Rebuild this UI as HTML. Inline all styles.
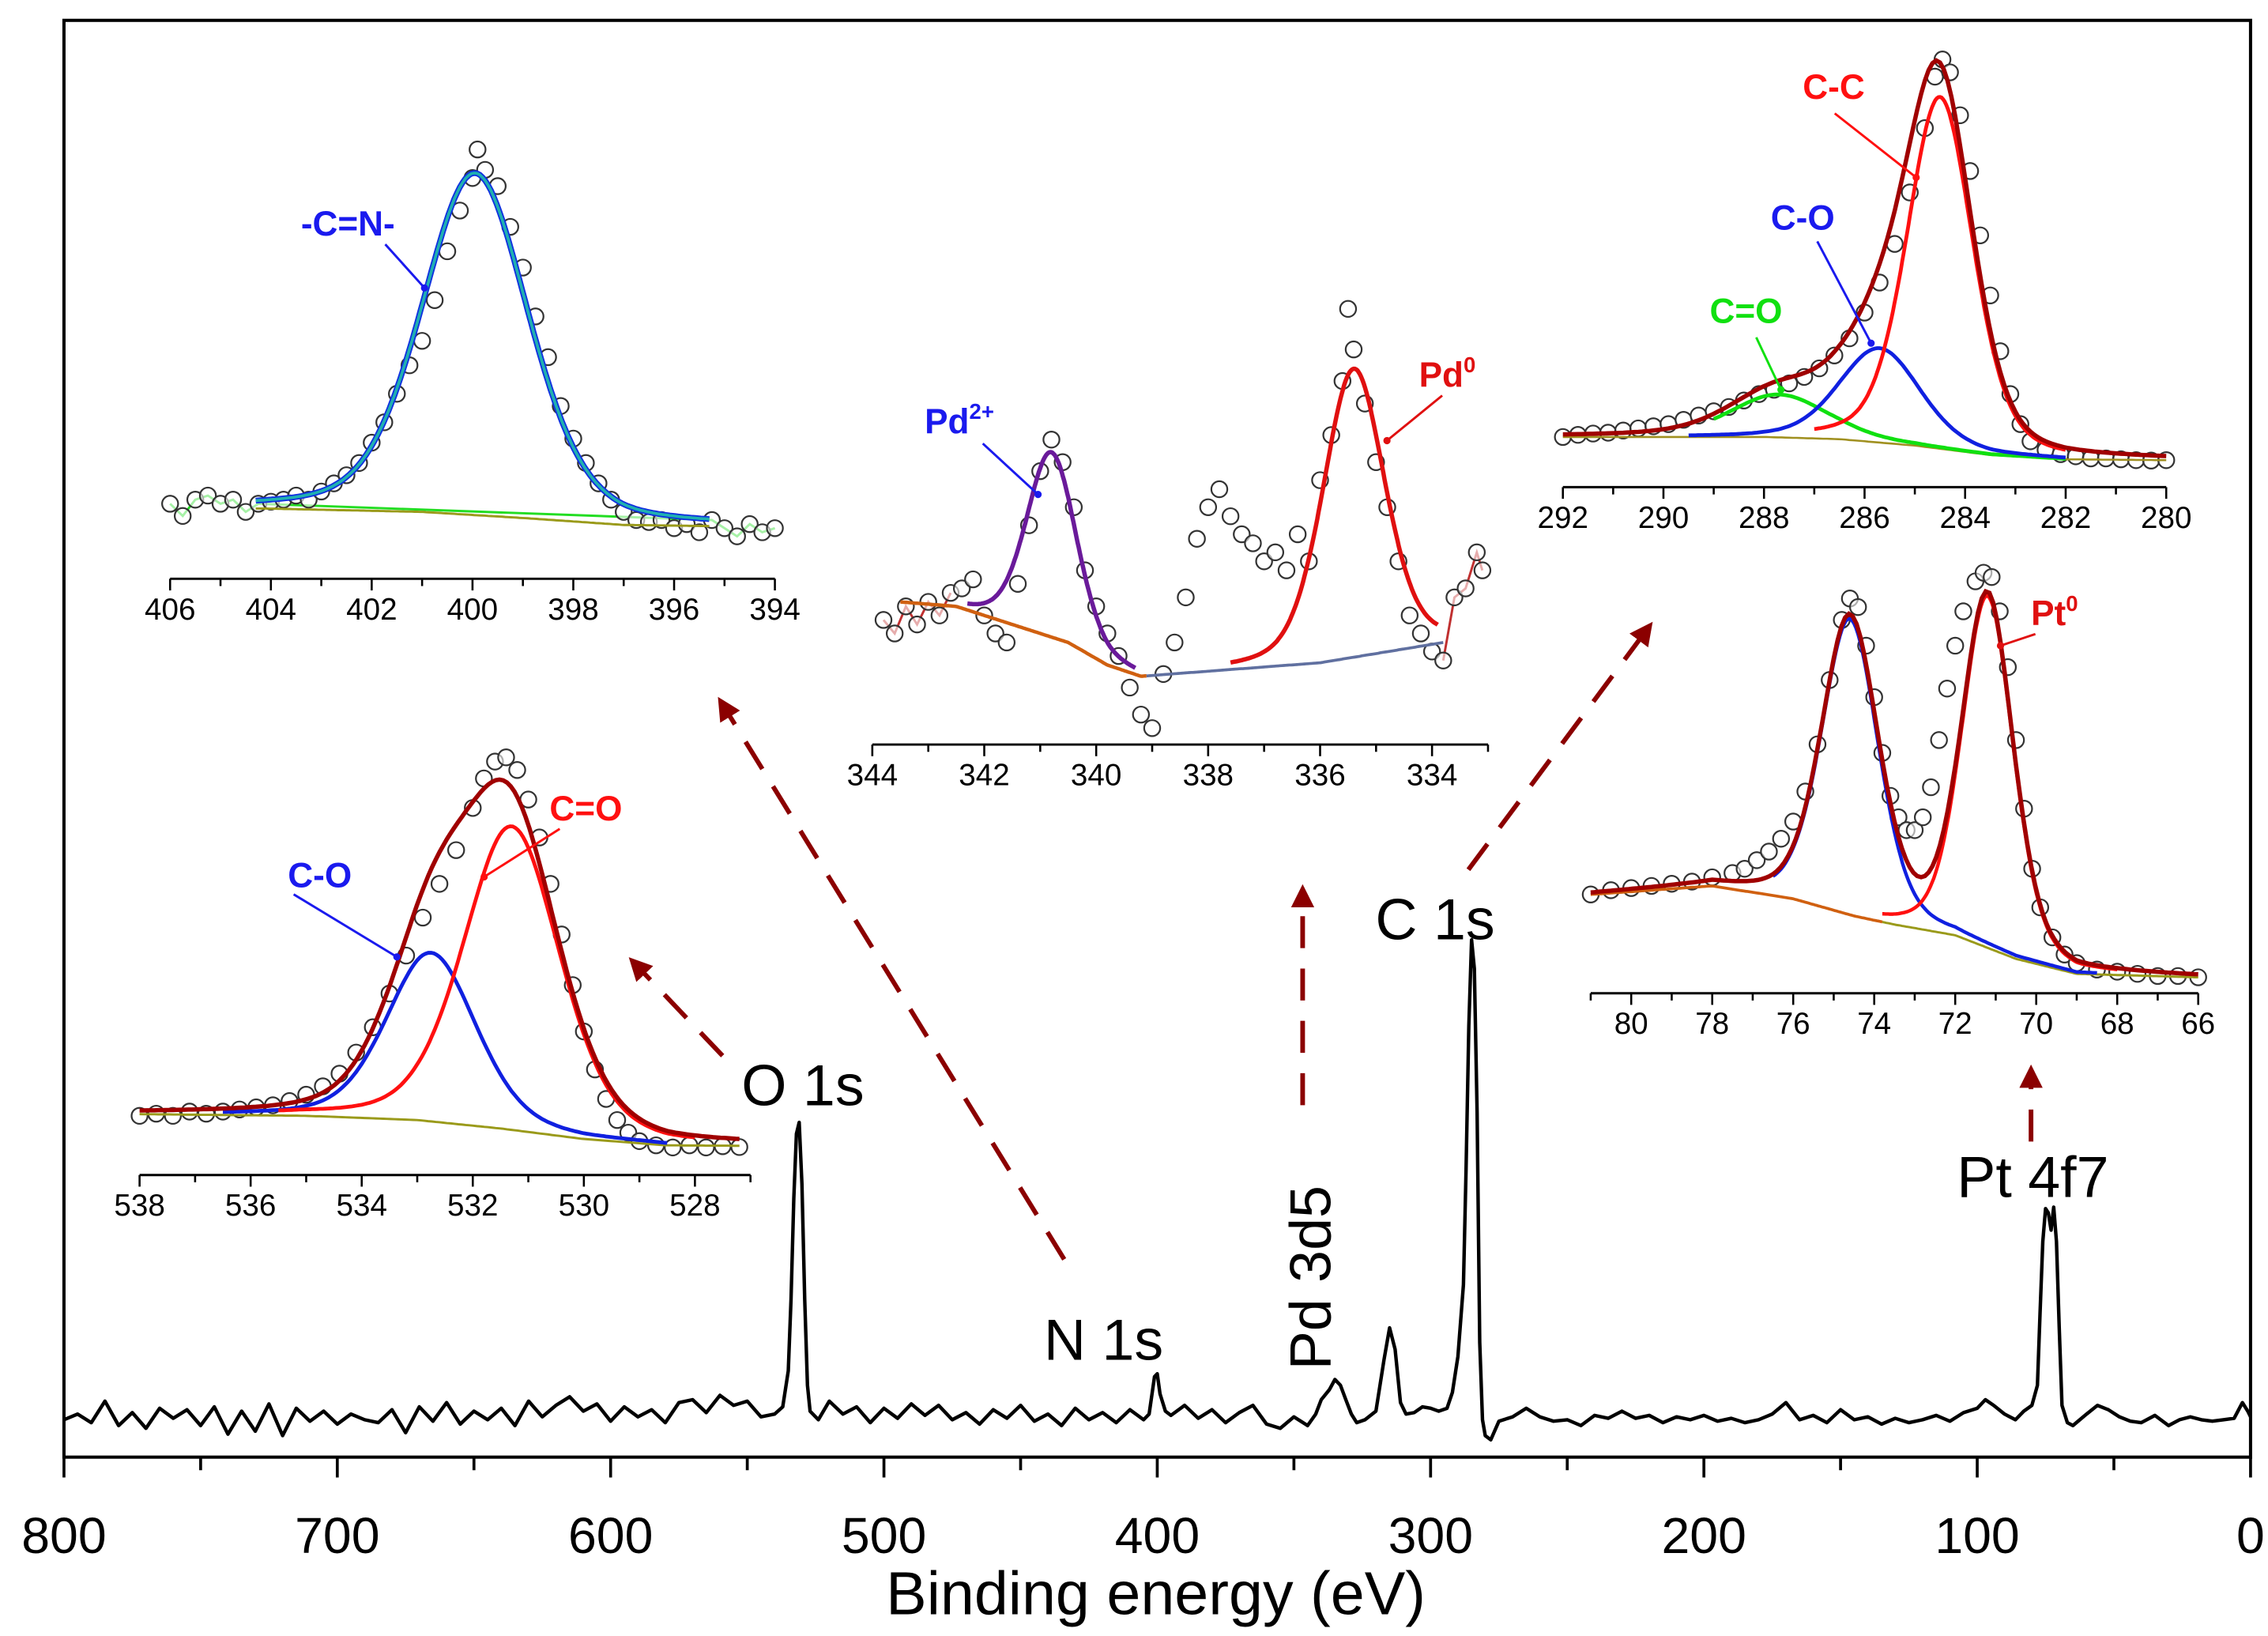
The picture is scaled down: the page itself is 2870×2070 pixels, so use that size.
<!DOCTYPE html>
<html><head><meta charset="utf-8"><title>XPS spectrum</title>
<style>html,body{margin:0;padding:0;background:#fff}svg{display:block}text{font-family:"Liberation Sans",Arial,sans-serif}</style>
</head><body>
<svg id="chart" xmlns="http://www.w3.org/2000/svg" width="2870" height="2070" viewBox="0 0 1560 1125" preserveAspectRatio="none">
<defs><marker id="ah" viewBox="0 0 10 10" refX="5" refY="5" markerWidth="5" markerHeight="5" orient="auto"><path d="M0,0 L10,5 L0,10 z" fill="#8b0000"/></marker></defs>
<rect x="44" y="14" width="1504" height="988" fill="none" stroke="#000" stroke-width="2.2"/>
<g id="main"></g><g id="insets"></g><g id="ann"></g>
</svg>
<script>
// ---------- Survey spectrum data [binding energy eV, intensity a.u.] ----------
const surveyTicks = [800,700,600,500,400,300,200,100,0];
const survey = [[800,2.6],[795,3.0],[790,2.4],[785,3.9],[780,2.2],[775,3.1],[770,2.0],[765,3.4],[760,2.7],[755,3.3],[750,2.2],[745,3.5],[740,1.6],[735,3.2],[730,1.8],[725,3.7],[720,1.5],[715,3.4],[710,2.5],[705,3.2],[700,2.3],[695,3.0],[690,2.6],[685,2.4],[680,3.3],[675,1.7],[670,3.5],[665,2.5],[660,3.8],[655,2.3],[650,3.2],[645,2.6],[640,3.4],[635,2.2],[630,3.9],[625,2.8],[620,3.6],[615,4.2],[610,3.2],[605,3.7],[600,2.5],[595,3.5],[590,2.8],[585,3.3],[580,2.4],[575,3.8],[570,4.0],[565,3.1],[560,4.3],[555,3.6],[550,3.9],[545,2.8],[540,3.0],[537,3.5],[535,6],[534,11],[533,18],[532,22.5],[531,23.3],[530,19],[529,11],[528,5],[527,3.2],[524,2.6],[520,3.9],[515,3.0],[510,3.5],[505,2.4],[500,3.4],[495,2.7],[490,3.7],[485,2.9],[480,3.6],[475,2.6],[470,3.1],[465,2.3],[460,3.3],[455,2.7],[450,3.6],[445,2.5],[440,3.0],[435,2.2],[430,3.4],[425,2.6],[420,3.1],[415,2.4],[410,3.3],[405,2.6],[403,3.0],[401,5.6],[400,5.8],[399,4.4],[397,3.2],[395,2.9],[390,3.6],[385,2.7],[380,3.3],[375,2.4],[370,3.1],[365,3.6],[360,2.3],[355,2.0],[350,2.8],[345,2.2],[342,3.0],[340,4.0],[337,4.7],[335,5.4],[333,5.0],[331,4.0],[329,3.0],[327,2.4],[324,2.6],[320,3.2],[317,6.8],[315,9.0],[313,7.5],[311,3.8],[309,3.0],[306,3.1],[303,3.5],[300,3.4],[297,3.2],[294,3.4],[292,4.5],[290,7],[288,12],[287,20],[286,30],[285,36],[284,34],[283,24],[282,8],[281,2.6],[280,1.5],[278,1.2],[275,2.5],[270,2.8],[265,3.4],[260,2.8],[255,2.5],[250,2.6],[245,2.2],[240,2.9],[235,2.7],[230,3.2],[225,2.7],[220,2.9],[215,2.4],[210,2.8],[205,2.6],[200,2.9],[195,2.5],[190,2.7],[185,2.4],[180,2.6],[175,3.0],[170,3.8],[165,2.6],[160,2.9],[155,2.4],[150,3.3],[145,2.6],[140,2.8],[135,2.3],[130,2.7],[125,2.4],[120,2.6],[115,2.9],[110,2.5],[105,3.1],[100,3.4],[97,4.0],[94,3.6],[90,3.0],[86,2.6],[83,3.2],[80,3.6],[78,5],[77,10],[76,15],[75,17.3],[74,17],[73,15.8],[72,17.4],[71,15],[70,9],[69,3.6],[67,2.4],[65,2.2],[60,3.0],[56,3.6],[52,3.3],[48,2.8],[44,2.5],[40,2.4],[35,2.9],[30,2.2],[26,2.6],[22,2.8],[18,2.6],[14,2.5],[10,2.6],[6,2.7],[3,3.8],[1,3.2],[0,2.8]];

// ---------- N 1s ----------
const nTicks = [406,404,402,400,398,396,394];
const nData = [[406,12],[405.75,9],[405.5,13],[405.25,14],[405,12],[404.75,13],[404.5,10],[404.25,12],[404,12.5],[403.75,13],[403.5,14],[403.25,13],[403,15],[402.75,17],[402.5,19],[402.25,22],[402,27],[401.75,32],[401.5,39],[401.25,46],[401,52],[400.75,62],[400.5,74],[400.25,84],[400,92],[399.9,99],[399.75,94],[399.5,90],[399.25,80],[399,70],[398.75,58],[398.5,48],[398.25,36],[398,28],[397.75,22],[397.5,17],[397.25,13],[397,10],[396.75,8],[396.5,7.5],[396.25,8],[396,6],[395.75,7],[395.5,5],[395.25,8],[395,6],[394.75,4],[394.5,7],[394.25,5],[394,6]];
const nBg = [[406,11],[404,10.8],[401,10],[399,8.5],[397,6.8],[394,6.3]];
const nPeaks = [[399.95,84,2.5]];

// ---------- Pd 3d ----------
const pdTicks = [344,342,340,338,336,334];
const pdData = [[343.8,27],[343.6,24],[343.4,30],[343.2,26],[343,31],[342.8,28],[342.6,33],[342.4,34],[342.2,36],[342,28],[341.8,24],[341.6,22],[341.4,35],[341.2,48],[341,60],[340.8,67],[340.6,62],[340.4,52],[340.2,38],[340,30],[339.8,24],[339.6,19],[339.4,12],[339.2,6],[339,3],[338.8,15],[338.6,22],[338.4,32],[338.2,45],[338,52],[337.8,56],[337.6,50],[337.4,46],[337.2,44],[337,40],[336.8,42],[336.6,38],[336.4,46],[336.2,40],[336,58],[335.8,68],[335.6,80],[335.5,96],[335.4,87],[335.2,75],[335,62],[334.8,52],[334.6,40],[334.4,28],[334.2,24],[334,20],[333.8,18],[333.6,32],[333.4,34],[333.2,42],[333.1,38]];
const pdBg = [[343.5,31],[342.5,30],[341.5,26],[340.5,22],[339.8,17],[339.2,14.5],[336,17.5],[333.8,22]];
const pdPeaks2 = [[340.8,41,1.05]];
const pdPeaks0 = [[335.4,64,1.3]];

// ---------- C 1s ----------
const cTicks = [292,290,288,286,284,282,280];
const cData = [[292,10],[291.7,10.5],[291.4,10.8],[291.1,11],[290.8,11.5],[290.5,12],[290.2,12.5],[289.9,13],[289.6,14],[289.3,15],[289,16],[288.7,17],[288.4,18.5],[288.1,20],[287.8,21],[287.5,22.5],[287.2,24],[286.9,26],[286.6,29],[286.3,33],[286,39],[285.7,46],[285.4,55],[285.1,67],[284.8,82],[284.6,94],[284.45,98],[284.3,95],[284.1,85],[283.9,72],[283.7,57],[283.5,43],[283.3,30],[283.1,20],[282.9,13],[282.7,9],[282.4,7],[282.1,6],[281.8,5.5],[281.5,5],[281.2,5],[280.9,4.8],[280.6,4.6],[280.3,4.5],[280,4.6]];
const cBg = [[292,10],[288,10],[286.5,9.5],[285,8],[283.5,5.8],[282,4.8],[280,4.6]];
const cPeakCC = [284.5,82,1.55];
const cPeakCO = [285.7,22,1.9];
const cPeakCdO = [287.7,10,2.3];

// ---------- Pt 4f ----------
const ptTicks = [80,78,76,74,72,70,68,66];
const ptData = [[81,22],[80.5,23],[80,23.5],[79.5,24],[79,24.5],[78.5,25],[78,26],[77.5,27],[77.2,28],[76.9,30],[76.6,32],[76.3,35],[76,39],[75.7,46],[75.4,57],[75.1,72],[74.8,86],[74.6,91],[74.4,89],[74.2,80],[74,68],[73.8,55],[73.6,45],[73.4,40],[73.2,37],[73,37],[72.8,40],[72.6,47],[72.4,58],[72.2,70],[72,80],[71.8,88],[71.5,95],[71.3,97],[71.1,96],[70.9,88],[70.7,75],[70.5,58],[70.3,42],[70.1,28],[69.9,19],[69.6,12],[69.3,8],[69,6],[68.5,4.5],[68,4],[67.5,3.5],[67,3],[66.5,3],[66,2.7]];
const ptBg = [[81,22],[78,24],[76,21],[74.5,17],[73.5,15],[72,12.5],[70.5,7],[69,3.5],[66,2.7]];
const ptPeak1 = [74.6,69,1.65];
const ptPeak2 = [71.2,82,1.5];

// ---------- O 1s ----------
const oTicks = [538,536,534,532,530,528];
const oData = [[538,13],[537.7,13.5],[537.4,13],[537.1,14],[536.8,13.5],[536.5,14],[536.2,14.5],[535.9,15],[535.6,15.5],[535.3,16.5],[535,18],[534.7,20],[534.4,23],[534.1,28],[533.8,34],[533.5,42],[533.2,51],[532.9,60],[532.6,68],[532.3,76],[532,86],[531.8,93],[531.6,97],[531.4,98],[531.2,95],[531,88],[530.8,79],[530.6,68],[530.4,56],[530.2,44],[530,33],[529.8,24],[529.6,17],[529.4,12],[529.2,9],[529,7],[528.7,6],[528.4,5.5],[528.1,6],[527.8,5.5],[527.5,5.8],[527.2,5.6]];
const oBg = [[538,13.4],[535,13],[533,12],[531.5,10],[530,7.5],[528.5,6],[527.2,5.9]];
const oPeakCO = [532.75,40,1.9];
const oPeakCdO = [531.3,72,2.05];

const NS = 'http://www.w3.org/2000/svg';
function mk(tag, attrs, parent){const e=document.createElementNS(NS,tag);for(const k in attrs)e.setAttribute(k,attrs[k]);parent.appendChild(e);return e;}
function interp(arr,x){if(x>=arr[0][0])return arr[0][1];for(let i=1;i<arr.length;i++){if(x>=arr[i][0]){const a=arr[i-1],b=arr[i];return a[1]+(b[1]-a[1])*(x-a[0])/(b[0]-a[0]);}}return arr[arr.length-1][1];}
function pv(x,p){const c=p[0],h=p[1],f=p[2],eta=0.3;const d=(x-c)/f;return h*((1-eta)*Math.exp(-4*Math.LN2*d*d)+eta/(1+4*d*d));}

// ---------- main axes ----------
const main=document.getElementById('main');
const X0=44,X1=1548,Y0=1002,YT=14;
const xs=e=>X0+(800-e)*(X1-X0)/800;
const ys=v=>Y0-v*(Y0-YT)/100;
let d='';survey.forEach((p,i)=>{d+=(i?'L':'M')+xs(p[0]).toFixed(1)+','+ys(p[1]).toFixed(1);});
const sl=mk('path',{d:d,fill:'none',stroke:'#000','stroke-width':2.4,'stroke-linejoin':'round'},main);


for(let e=800;e>=0;e-=50){const major=e%100===0;const t=mk('line',{x1:xs(e),x2:xs(e),y1:Y0,y2:Y0+(major?14:9),stroke:'#000','stroke-width':2},main);

}
surveyTicks.forEach(v=>{const t=mk('text',{x:xs(v),y:1068,'font-size':35,'text-anchor':'middle'},main);t.textContent=v;

});
const xt=mk('text',{x:795,y:1110,'font-size':42,'text-anchor':'middle'},main);xt.textContent='Binding energy (eV)';



// ---------- inset renderer ----------
const insG=document.getElementById('insets');
function inset(name,g){
  const grp=mk('g',{},insG);
  
  
  const sx=e=>g.xA+(g.eA-e)*(g.xB-g.xA)/(g.eA-g.eB);
  const sy=v=>g.yBot-v*(g.yBot-g.yTop)/100;
  const ax=mk('line',{x1:sx(g.range[0]),x2:sx(g.range[1]),y1:g.axisY,y2:g.axisY,stroke:'#000','stroke-width':1.6},grp);
  
  
  for(let e=g.range[0];e>=g.range[1]-1e-9;e-=1){const mj=g.ticks.includes(e);const t=mk('line',{x1:sx(e),x2:sx(e),y1:g.axisY,y2:g.axisY+(mj?8:5),stroke:'#000','stroke-width':1.4},grp);
  
  }
  g.ticks.forEach(v=>{const t=mk('text',{x:sx(v),y:g.axisY+28,'font-size':21,'text-anchor':'middle'},grp);t.textContent=v;
  
  });
  const curve=(fn,a,b,col,w,nm)=>{let p='';const n=160;for(let i=0;i<=n;i++){const e=a+(b-a)*i/n;p+=(i?'L':'M')+sx(e).toFixed(1)+','+sy(fn(e)).toFixed(1);}
    const c=mk('path',{d:p,fill:'none',stroke:col,'stroke-width':w},grp);
    
    };
  (g.lines||[]).forEach(l=>{let p='';l.pts.forEach((q,i)=>{p+=(i?'L':'M')+sx(q[0]).toFixed(1)+','+sy(q[1]).toFixed(1);});
    const c=mk('path',{d:p,fill:'none',stroke:l.col,'stroke-width':1.6},grp);
    
    });
  g.data.forEach(q=>{const c=mk('circle',{cx:sx(q[0]),cy:sy(q[1]),r:5.5,fill:'#fff','fill-opacity':0.6,stroke:'#333','stroke-width':1.2},grp);
    
    });
  g.curves.forEach(c=>curve(c.fn,c.a,c.b,c.col,c.w,name+'-'+c.nm));
  return {sx,sy,grp};
}
const sum=(bg,peaks)=>e=>interp(bg,e)+peaks.reduce((s,p)=>s+pv(e,p),0);

inset('n1s-inset',{eA:406,xA:117,eB:394,xB:533,range:[406,394],axisY:398,yBot:380,yTop:100,ticks:nTicks,data:nData,
  lines:[{pts:nData.filter(q=>q[0]>=404.2||q[0]<=395.3),col:'#22dd22'}],
  curves:[{fn:e=>interp(nBg,e),a:404.3,b:395.3,col:'#9a9a1a',w:1.6,nm:'background'},
          {fn:sum(nBg,nPeaks),a:404.3,b:395.3,col:'#1030e0',w:4,nm:'component'},
          {fn:sum(nBg,nPeaks),a:404.3,b:395.3,col:'#20b0b0',w:2,nm:'fit'}]});
inset('pd3d-inset',{eA:344,xA:600,eB:334,xB:985,range:[344,333],axisY:512,yBot:510,yTop:200,ticks:pdTicks,data:pdData,
  lines:[{pts:pdData.filter(q=>q[0]>=342.6),col:'#c03030'},{pts:pdData.filter(q=>q[0]<=333.8),col:'#c03030'}],
  curves:[{fn:e=>interp(pdBg,e),a:343.5,b:339.1,col:'#d06010',w:2.4,nm:'background'},
          {fn:e=>interp(pdBg,e),a:339.1,b:333.8,col:'#6070a0',w:2,nm:'background-line'},
          {fn:sum(pdBg,pdPeaks2),a:342.3,b:339.3,col:'#6a1a9a',w:3,nm:'pd2-fit'},
          {fn:sum(pdBg,pdPeaks0),a:337.6,b:333.9,col:'#e01010',w:3,nm:'pd0-fit'}]});
inset('c1s-inset',{eA:292,xA:1075,eB:280,xB:1490,range:[292,280],axisY:335,yBot:330,yTop:35,ticks:cTicks,data:cData,
  curves:[{fn:e=>interp(cBg,e),a:292,b:280,col:'#a09020',w:1.4,nm:'background'},
          {fn:sum(cBg,[cPeakCdO]),a:289,b:282,col:'#10e010',w:2.6,nm:'c-dbl-o'},
          {fn:sum(cBg,[cPeakCO]),a:289.5,b:282,col:'#1020e0',w:2.6,nm:'c-o'},
          {fn:sum(cBg,[cPeakCC]),a:287,b:282,col:'#ff1010',w:2.6,nm:'c-c'},
          {fn:sum(cBg,[cPeakCC,cPeakCO,cPeakCdO]),a:292,b:280,col:'#a00000',w:3,nm:'fit'}]});
inset('pt4f-inset',{eA:80,xA:1122,eB:66,xB:1512,range:[81,66],axisY:683,yBot:680,yTop:385,ticks:ptTicks,data:ptData,
  curves:[{fn:e=>interp(ptBg,e),a:81,b:73.8,col:'#d06010',w:2,nm:'background'},
          {fn:e=>interp(ptBg,e),a:73.8,b:66,col:'#9a9a1a',w:1.6,nm:'background-tail'},
          {fn:sum(ptBg,[ptPeak1]),a:76.5,b:68.5,col:'#1020e0',w:2.4,nm:'pt-component-1'},
          {fn:sum(ptBg,[ptPeak2]),a:73.8,b:68,col:'#ff1010',w:2.4,nm:'pt-component-2'},
          {fn:sum(ptBg,[ptPeak1,ptPeak2]),a:81,b:66,col:'#a00000',w:3,nm:'fit'}]});
inset('o1s-inset',{eA:538,xA:96,eB:528,xB:478,range:[538,527],axisY:808,yBot:805,yTop:515,ticks:oTicks,data:oData,
  curves:[{fn:e=>interp(oBg,e),a:538,b:527.2,col:'#9a9a1a',w:1.6,nm:'background'},
          {fn:sum(oBg,[oPeakCO]),a:536.5,b:528.5,col:'#1020e0',w:2.6,nm:'c-o'},
          {fn:sum(oBg,[oPeakCdO]),a:535.5,b:528,col:'#ff1010',w:2.6,nm:'c-dbl-o'},
          {fn:sum(oBg,[oPeakCO,oPeakCdO]),a:538,b:527.2,col:'#a00000',w:3,nm:'fit'}]});

// ---------- annotations ----------
const ann=document.getElementById('ann');
function label(txt,x,y,size,col,bold,nm,rot){const t=mk('text',{x:x,y:y,'font-size':size,fill:col,'font-weight':bold?'bold':'normal'},ann);
  if(rot)t.setAttribute('transform','rotate(-90 '+x+' '+y+')');
  t.innerHTML=txt;
  
  return t;}
function pointer(x1,y1,x2,y2,col,nm){const l=mk('line',{x1,y1,x2,y2,stroke:col,'stroke-width':1.6},ann);
  
  
  mk('circle',{cx:x2,cy:y2,r:2.5,fill:col},ann);}
label('O 1s',510,760,40,'#000',false,'o1s-label');
label('N 1s',718,935,40,'#000',false,'n1s-label');
label('Pd 3d5',915,942,40,'#000',false,'pd3d5-label',true);
label('C 1s',946,646,40,'#000',false,'c1s-label');
label('Pt 4f7',1346,823,40,'#000',false,'pt4f7-label');
label('-C=N-',207,162,24,'#1a1aee',true,'cn-label');pointer(265,168,292,198,'#1a1aee','cn-pointer');
label('Pd<tspan font-size="15" dy="-10">2+</tspan>',636,298,24,'#1a1aee',true,'pd2-label');pointer(676,305,714,340,'#1a1aee','pd2-pointer');
label('Pd<tspan font-size="15" dy="-10">0</tspan>',976,266,24,'#e01010',true,'pd0-label');pointer(992,272,954,303,'#e01010','pd0-pointer');
label('C-C',1240,68,24,'#ff1010',true,'cc-label');pointer(1262,78,1318,122,'#ff1010','cc-pointer');
label('C-O',1218,158,24,'#1a1aee',true,'co-c1s-label');pointer(1250,166,1287,236,'#1a1aee','co-c1s-pointer');
label('C=O',1176,222,24,'#10e010',true,'cdo-c1s-label');pointer(1208,232,1225,268,'#10e010','cdo-c1s-pointer');
label('Pt<tspan font-size="15" dy="-10">0</tspan>',1397,430,24,'#e01010',true,'pt0-label');pointer(1400,436,1376,444,'#e01010','pt0-pointer');
label('C-O',198,610,24,'#1a1aee',true,'co-o1s-label');pointer(202,615,273,658,'#1a1aee','co-o1s-pointer');
label('C=O',378,564,24,'#ff1010',true,'cdo-o1s-label');pointer(385,570,333,603,'#ff1010','cdo-o1s-pointer');
function arrow(x1,y1,x2,y2,nm){const l=mk('line',{x1,y1,x2,y2,stroke:'#8b0000','stroke-width':3.2,'stroke-dasharray':'22 14','marker-end':'url(#ah)'},ann);
  
  }
arrow(732,866,498,486,'n1s-arrow');
arrow(497,726,438,664,'o1s-arrow');
arrow(896,760,896,616,'pd-arrow');
arrow(1010,598,1132,434,'c1s-arrow');
arrow(1397,785,1397,740,'pt-arrow');
</script>
</body></html>
